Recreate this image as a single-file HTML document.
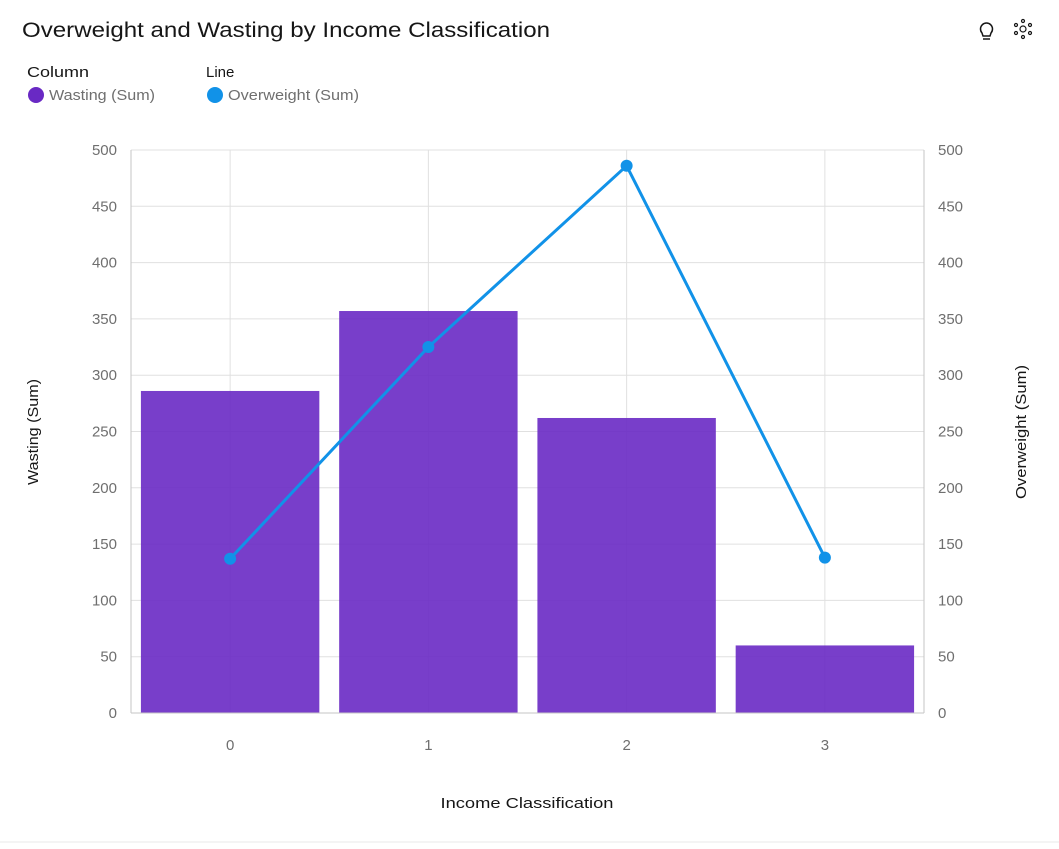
<!DOCTYPE html>
<html><head><meta charset="utf-8"><style>
body{margin:0;width:1059px;height:844px;background:#fff;font-family:"Liberation Sans",sans-serif;overflow:hidden}
svg text{font-family:"Liberation Sans",sans-serif}
</style></head><body>
<svg id="c" width="1059" height="844">
<text x="22" y="37" font-size="21" fill="#161616" textLength="528" lengthAdjust="spacingAndGlyphs">Overweight and Wasting by Income Classification</text>
<g fill="none" stroke="#161616" stroke-width="1.5">
<path d="M982 33 a6 6 0 1 1 9 0 l-1 3 h-7 z"/><line x1="983" y1="39" x2="990" y2="39"/></g>
<g fill="none" stroke="#161616" stroke-width="1.2">
<circle cx="1023" cy="29" r="3"/><circle cx="1023" cy="21" r="1.5"/><circle cx="1023" cy="37" r="1.5"/><circle cx="1016" cy="25" r="1.5"/><circle cx="1030" cy="25" r="1.5"/><circle cx="1016" cy="33" r="1.5"/><circle cx="1030" cy="33" r="1.5"/></g>
<text x="27" y="77" font-size="15" fill="#161616" textLength="62" lengthAdjust="spacingAndGlyphs">Column</text>
<circle cx="36" cy="95" r="8" fill="#6929c4"/>
<text x="49" y="100" font-size="15" fill="#6f6f6f" textLength="106" lengthAdjust="spacingAndGlyphs">Wasting (Sum)</text>
<text x="206" y="77" font-size="15" fill="#161616">Line</text>
<circle cx="215" cy="95" r="8" fill="#1192e8"/>
<text x="228" y="100" font-size="15" fill="#6f6f6f" textLength="131" lengthAdjust="spacingAndGlyphs">Overweight (Sum)</text>
<text transform="translate(38,432) rotate(-90)" text-anchor="middle" font-size="15" fill="#161616" textLength="106" lengthAdjust="spacingAndGlyphs">Wasting (Sum)</text>
<text transform="translate(1026,432) rotate(-90)" text-anchor="middle" font-size="15" fill="#161616" textLength="134" lengthAdjust="spacingAndGlyphs">Overweight (Sum)</text>
<text x="527" y="808" text-anchor="middle" font-size="15" fill="#161616" textLength="173" lengthAdjust="spacingAndGlyphs">Income Classification</text>
<line x1="0" y1="842" x2="1059" y2="842" stroke="#e8e8e8"/>
<g id="plot"></g>
</svg>
<script>
const categories=["0","1","2","3"];
const wasting=[286,357,262,60];
const overweight=[137,325,486,138];
const yTicks=[0,50,100,150,200,250,300,350,400,450,500];
const L=131,R=924,T=150,B=713,maxV=500;
const NS="http://www.w3.org/2000/svg";
const g=document.getElementById('plot');
const band=(R-L)/categories.length;
const xC=i=>L+band*(i+0.5);
const y=v=>B-(v/maxV)*(B-T);
function mk(t,a,txt){const e=document.createElementNS(NS,t);for(const k in a)e.setAttribute(k,a[k]);if(txt!==undefined)e.textContent=txt;g.appendChild(e);return e;}
yTicks.forEach(v=>{
 let e=mk('line',{x1:L,x2:R,y1:y(v),y2:y(v),stroke:'#e0e0e0'});
 
 
 e=mk('text',{x:L-14,y:y(v)+5,'text-anchor':'end','font-size':15,fill:'#6f6f6f'},v);
 
 
 e=mk('text',{x:R+14,y:y(v)+5,'font-size':15,fill:'#6f6f6f'},v);
 
 
});
categories.forEach((c,i)=>{
 let e=mk('line',{x1:xC(i),x2:xC(i),y1:T,y2:B,stroke:'#e0e0e0'});
 
 
 e=mk('text',{x:xC(i),y:B+37,'text-anchor':'middle','font-size':15,fill:'#6f6f6f'},c);
 
 
});
let ax=mk('line',{x1:L,x2:L,y1:T,y2:B,stroke:'#c6c6c6'});


ax=mk('line',{x1:R,x2:R,y1:T,y2:B,stroke:'#c6c6c6'});


const bw=band*0.9;
wasting.forEach((v,i)=>{
 const e=mk('rect',{x:xC(i)-bw/2,y:y(v),width:bw,height:B-y(v),fill:'#6929c4','fill-opacity':0.9});
 
 
});
ax=mk('line',{x1:L,x2:R,y1:B,y2:B,stroke:'#c6c6c6'});


const pl=mk('polyline',{points:overweight.map((v,i)=>xC(i)+','+y(v)).join(' '),fill:'none',stroke:'#1192e8','stroke-width':3});


overweight.forEach((v,i)=>{
 const e=mk('circle',{cx:xC(i),cy:y(v),r:6,fill:'#1192e8'});
 
 
});
</script>
</body></html>
